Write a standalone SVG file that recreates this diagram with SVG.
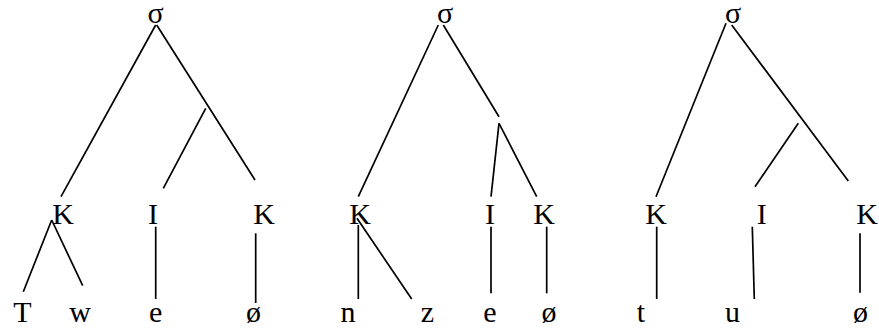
<svg xmlns="http://www.w3.org/2000/svg" width="879" height="328" viewBox="0 0 879 328">
<style>
text{font-family:"Liberation Serif","Times New Roman",serif;font-size:30px;fill:#000;text-anchor:middle}
.c line{stroke:#000;stroke-width:1.7;stroke-linecap:butt}
</style>
<rect width="879" height="328" fill="#fff"/>
<g class="c" id="connectors">
<line x1="155.7" y1="25" x2="61" y2="196.7"/>
<line x1="156.7" y1="25" x2="255" y2="180"/>
<line x1="205.7" y1="108.3" x2="163.3" y2="188.3"/>
<line x1="51.7" y1="220" x2="23.3" y2="291.7"/>
<line x1="51.7" y1="220" x2="82.7" y2="285.7"/>
<line x1="155.7" y1="226.7" x2="155.7" y2="299"/>
<line x1="255.7" y1="233.3" x2="255.7" y2="303"/>
<line x1="438.3" y1="25" x2="358.3" y2="196.7"/>
<line x1="443.3" y1="25" x2="499" y2="116.7"/>
<line x1="499" y1="123.3" x2="491" y2="196.7"/>
<line x1="499" y1="123.3" x2="536.7" y2="196.7"/>
<line x1="358.3" y1="225" x2="358.3" y2="299"/>
<line x1="357" y1="218.3" x2="411.7" y2="299"/>
<line x1="491" y1="226.7" x2="491" y2="293.3"/>
<line x1="546.7" y1="226.7" x2="546.7" y2="293.3"/>
<line x1="726" y1="23.3" x2="656" y2="196.7"/>
<line x1="731.7" y1="25" x2="848.3" y2="181"/>
<line x1="798.3" y1="123.3" x2="755" y2="186.7"/>
<line x1="656.7" y1="226.7" x2="656.7" y2="299"/>
<line x1="752.3" y1="226.7" x2="754.3" y2="299"/>
<line x1="860" y1="233.3" x2="860" y2="292.7"/>
</g>
<g id="t1">
<g id="t1-root"><text x="155.7" y="23">σ</text></g>
<g id="t1-K1"><text x="63" y="224">K</text></g>
<g id="t1-I"><text x="153" y="224">I</text></g>
<g id="t1-K2"><text x="264" y="224">K</text></g>
<g id="t1-T"><text x="22.5" y="322">T</text></g>
<g id="t1-w"><text x="80" y="322">w</text></g>
<g id="t1-e"><text x="155.7" y="322">e</text></g>
<g id="t1-o"><text x="253.5" y="322">ø</text></g>
</g>
<g id="t2">
<g id="t2-root"><text x="445" y="23">σ</text></g>
<g id="t2-K1"><text x="360" y="224">K</text></g>
<g id="t2-I"><text x="490" y="224">I</text></g>
<g id="t2-K2"><text x="544" y="224">K</text></g>
<g id="t2-n"><text x="348" y="322">n</text></g>
<g id="t2-z"><text x="427.5" y="322">z</text></g>
<g id="t2-e"><text x="490" y="322">e</text></g>
<g id="t2-o"><text x="549" y="322">ø</text></g>
</g>
<g id="t3">
<g id="t3-root"><text x="733" y="23">σ</text></g>
<g id="t3-K1"><text x="656" y="224">K</text></g>
<g id="t3-I"><text x="761.7" y="224">I</text></g>
<g id="t3-K2"><text x="867" y="224">K</text></g>
<g id="t3-t"><text x="641" y="322">t</text></g>
<g id="t3-u"><text x="732.5" y="322">u</text></g>
<g id="t3-o"><text x="860.5" y="322">ø</text></g>
</g>
</svg>
